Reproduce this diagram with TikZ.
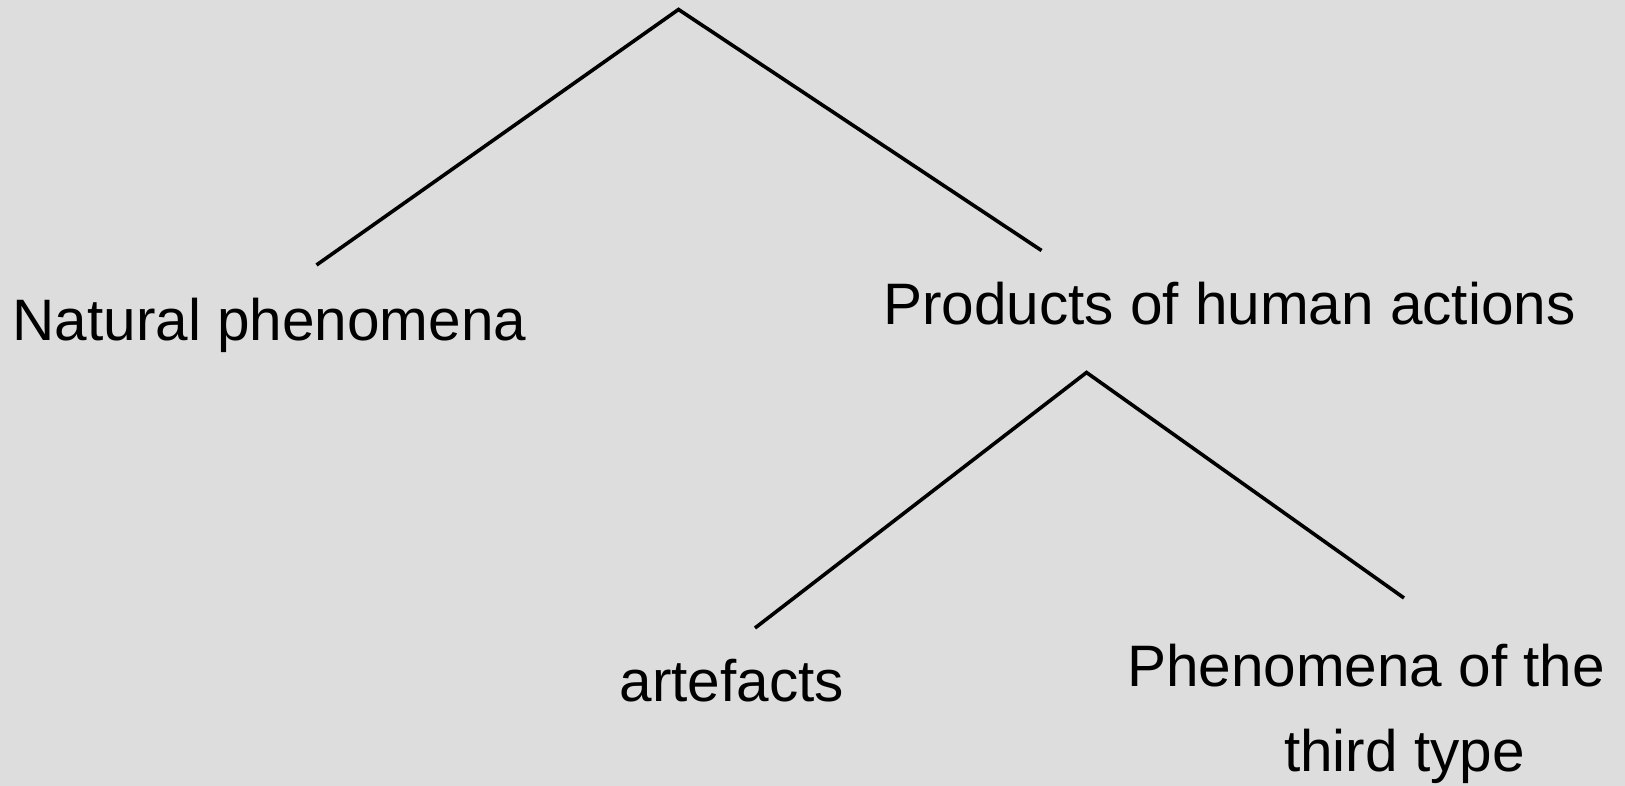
\documentclass[tikz,border=0pt]{standalone}
\usepackage{fontspec}
\setmainfont{Liberation Sans}
\usepackage{tikz}
\usepackage{xcolor}
\definecolor{panel-grey}{RGB}{221,221,221}
\tikzset{
    tree-label/.style = {anchor=base west, inner sep=0pt, outer sep=0pt, font=\fontsize{58.5}{85}\selectfont},
    tree-branch/.style = {draw=black, line width=3.6pt, line cap=butt, line join=miter},
}

\begin{document}
\begin{tikzpicture}[x=1pt, y=-1pt]
\fill[panel-grey] (0,0) rectangle (1625,786);
\useasboundingbox (0,0) rectangle (1625,786);
\node[tree-label] (natural) at (12.5,340) {Natural phenomena};
\node[tree-label] (products) at (883,325) {Products of human actions};
\node[tree-label] (artefacts) at (619.5,701.7) {artefacts};
% last line sets the base of this node
\node[tree-label, align=left] (third) at (1127,771.7) {Phenomena of the\\\hspace*{157pt}third type};
\coordinate (top) at (678.5,9.5);
\coordinate (natural-end) at (316.5,265);
\coordinate (products-end) at (1041.5,250.5);
\coordinate (products-top) at (1086.5,372.5);
\coordinate (artefacts-end) at (755,628);
\coordinate (third-end) at (1404,598);
\draw[tree-branch] (natural-end) -- (top) -- (products-end);
\draw[tree-branch] (artefacts-end) -- (products-top) -- (third-end);
\end{tikzpicture}
\end{document}
